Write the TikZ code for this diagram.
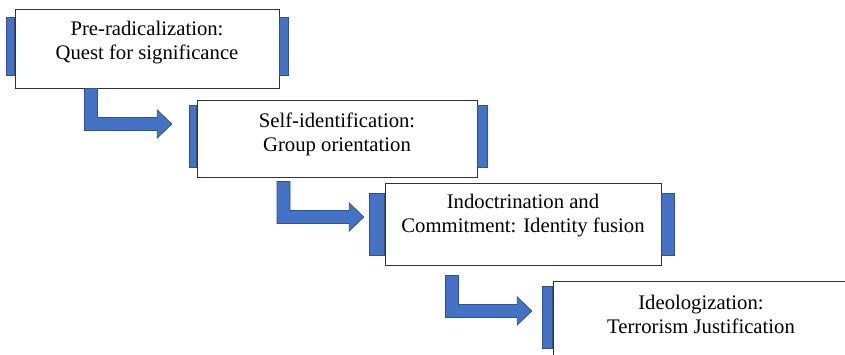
\documentclass[tikz,border=0pt]{standalone}
\usepackage{fontspec}
\setmainfont{LiberationSerif}[Extension=.ttf,UprightFont=*-Regular,BoldFont=*-Bold]
\usetikzlibrary{positioning,calc}
\definecolor{stageblue}{RGB}{68,114,196}
\definecolor{stageedge}{RGB}{47,82,143}
% bent block arrow: #1 top of the stem, #2 the tip
\newcommand{\bentarrow}[2]{%
  \filldraw[fill=stageblue,draw=stageedge,line width=0.8pt] let \p1=(#1), \p2=(#2) in
    ({\x1-6.5pt},\y1) -- ({\x1+6.5pt},\y1) -- ({\x1+6.5pt},{\y2+6.5pt})
    -- ({\x2-14.5pt},{\y2+6.5pt}) -- ({\x2-14.5pt},{\y2+14pt}) -- (\x2,\y2)
    -- ({\x2-14.5pt},{\y2-14pt}) -- ({\x2-14.5pt},{\y2-6.5pt})
    -- ({\x1-6.5pt},{\y2-6.5pt}) -- cycle;}

\begin{document}
\begin{tikzpicture}[x=1pt,y=-1pt,
    every node/.style={font=\rmfamily\fontsize{20.7}{24}\selectfont},
    stage/.style={draw=black!80,fill=white,line width=0.9pt,inner sep=0pt},
    bar/.style={fill=stageblue,draw=stageedge,line width=0.8pt,inner sep=0pt,minimum height=62pt},
    stagetext/.style={align=center,inner sep=0pt}]
  \useasboundingbox (0,0) rectangle (845,354);
  \clip (0,0) rectangle (845,354);

  \node[stage,minimum width=264pt,minimum height=79pt] (s1) at (147,48.5) {};
  \node[stage,minimum width=280pt,minimum height=77pt] (s2) at (337,138.5) {};
  \node[stage,minimum width=276pt,minimum height=82pt] (s3) at (523,224) {};
  \node[stage,minimum width=296pt,minimum height=80pt] (s4) at (701,321) {};

  \node[stagetext] (t1) at ($(s1.center)+(0,-5.5)$) {Pre-radicalization:\\Quest for significance};
  \node[stagetext] (t2) at ($(s2.center)+(0,-4.5)$) {Self-identification:\\Group orientation};
  \node[stagetext] (t3) at ($(s3.center)+(0,-8)$) {Indoctrination and\\Commitment: Identity fusion};
  \node[stagetext] (t4) at ($(s4.center)+(0,-7)$) {Ideologization:\\Terrorism Justification};

  \node[bar,minimum width=8pt,minimum height=58pt,anchor=east] (l1) at ($(s1.west)+(0,-2.5)$) {};
  \node[bar,minimum width=9pt,minimum height=58pt,anchor=west] (r1) at ($(s1.east)+(0,-2.5)$) {};
  \node[bar,minimum width=7pt,anchor=east] (l2) at ($(s2.west)+(0,-2.5)$) {};
  \node[bar,minimum width=10pt,anchor=west] (r2) at ($(s2.east)+(0,-2)$) {};
  \node[bar,minimum width=15pt,anchor=east] (l3) at (s3.west) {};
  \node[bar,minimum width=13pt,anchor=west] (r3) at (s3.east) {};
  \node[bar,minimum width=10pt,anchor=east] (l4) at ($(s4.west)+(0,-4)$) {};

  \coordinate (a1) at ($(s1.south west)+(76.5,0)$);
  \coordinate (b1) at ($(l2.west)+(-17,-12)$);
  \coordinate (a2) at ($(s2.south west)+(87,4)$);
  \coordinate (b2) at ($(l3.west)+(-5,-7)$);
  \coordinate (a3) at ($(s3.south west)+(67.5,10)$);
  \coordinate (b3) at ($(l4.west)+(-10,-6)$);
  \bentarrow{a1}{b1}
  \bentarrow{a2}{b2}
  \bentarrow{a3}{b3}
\end{tikzpicture}
\end{document}
